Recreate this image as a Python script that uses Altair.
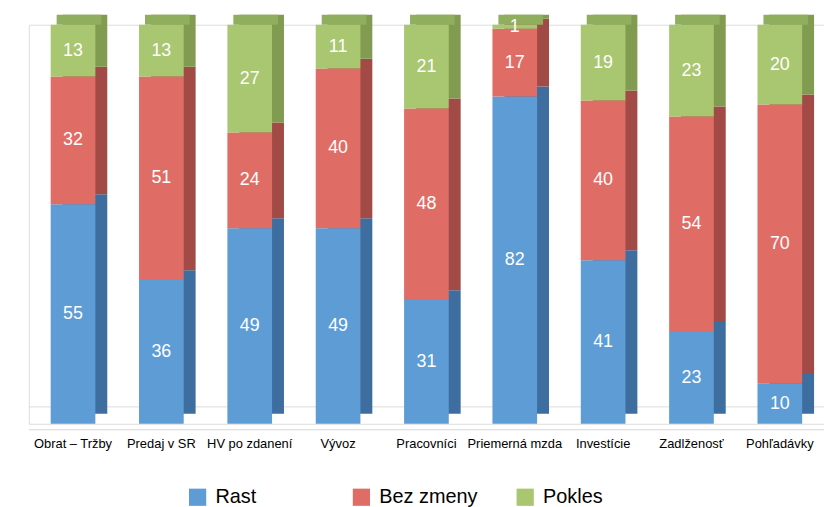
import altair as alt
import pandas as pd

categories = ["Obrat – Tržby", "Predaj v SR", "HV po zdanení", "Vývoz", "Pracovníci",
              "Priemerná mzda", "Investície", "Zadlženosť", "Pohľadávky"]
series = ["Rast", "Bez zmeny", "Pokles"]
rast = [55, 36, 49, 49, 31, 82, 41, 23, 10]
bez_zmeny = [32, 51, 24, 40, 48, 17, 40, 54, 70]
pokles = [13, 13, 27, 11, 21, 1, 19, 23, 20]

front_colors = ["#5d9cd4", "#df6d66", "#a9c670"]
side_colors = ["#3d6e9f", "#a24b46", "#819b51"]
top_color = "#8fae5e"

rows = []
for i, c in enumerate(categories):
    for k, (s, vals) in enumerate(zip(series, [rast, bez_zmeny, pokles])):
        rows.append({"cat": c, "series": s, "order": k, "value": vals[i]})
df = pd.DataFrame(rows)

FONT_C = "Liberation Sans Narrow, Liberation Sans, Arial"

base = alt.Chart(df).transform_stack(
    stack="value", groupby=["cat"], as_=["y0", "y1"],
    sort=[alt.SortField("order", order="ascending")]
).transform_calculate(mid="(datum.y0 + datum.y1) / 2")

xenc = alt.X("cat:N", sort=categories, title=None,
             scale=alt.Scale(paddingInner=0, paddingOuter=0),
             axis=alt.Axis(labelAngle=0, ticks=False, domain=False, labelPadding=14,
                           labelFont=FONT_C, labelFontSize=13, labelColor="#000000"))
yscale = alt.Scale(domain=[0, 100])

back_floor = alt.Chart(pd.DataFrame({"v": [0]})).mark_rule(
    color="#dcdcdc", strokeWidth=1, yOffset=-17
).encode(y=alt.Y("v:Q", scale=yscale, axis=None))
front_floor = alt.Chart(pd.DataFrame({"v": [0]})).mark_rule(
    color="#d6d6d6", strokeWidth=1, yOffset=6
).encode(y=alt.Y("v:Q", scale=yscale, axis=None))

side = base.mark_bar(width=45, xOffset=12, yOffset=-10, y2Offset=-10).encode(
    x=xenc,
    y=alt.Y("y1:Q", scale=yscale, axis=None),
    y2="y0:Q",
    color=alt.Color("series:N", sort=series,
                    scale=alt.Scale(domain=series, range=side_colors), legend=None),
)

top = base.transform_filter(alt.datum.series == "Pokles").mark_bar(
    width=45, xOffset=6, yOffset=-10, y2Offset=0, color=top_color
).encode(
    x=xenc,
    y=alt.Y("y1:Q", scale=yscale, axis=None),
    y2="y1:Q",
)

front = base.mark_bar(width=45).encode(
    x=xenc,
    y=alt.Y("y1:Q", scale=yscale, axis=None),
    y2="y0:Q",
    color=alt.Color("series:N", sort=series, title=None,
                    scale=alt.Scale(domain=series, range=front_colors),
                    legend=alt.Legend(orient="none", direction="horizontal",
                                      legendX=160, legendY=466, symbolType="square",
                                      symbolSize=300, symbolStrokeWidth=0,
                                      labelFont="Liberation Sans", labelFontSize=20,
                                      labelColor="#000000", columnPadding=38,
                                      gridAlign="all", padding=0, labelOffset=8)),
)

labels = base.mark_text(color="white", font=FONT_C, fontSize=18, baseline="middle").encode(
    x=xenc,
    y=alt.Y("mid:Q", scale=yscale, axis=None),
    text="value:Q",
)

chart = alt.layer(back_floor, front_floor, side, top, front, labels).resolve_scale(
    color="independent"
).properties(
    width=801, height=402,
    autosize=alt.AutoSizeParams(type="none"),
    padding={"left": 21, "top": 15, "right": 0, "bottom": 83},
).configure_view(stroke=None).configure(background="white")

chart.save("out.html", embed_options={"renderer": "svg", "actions": False})
